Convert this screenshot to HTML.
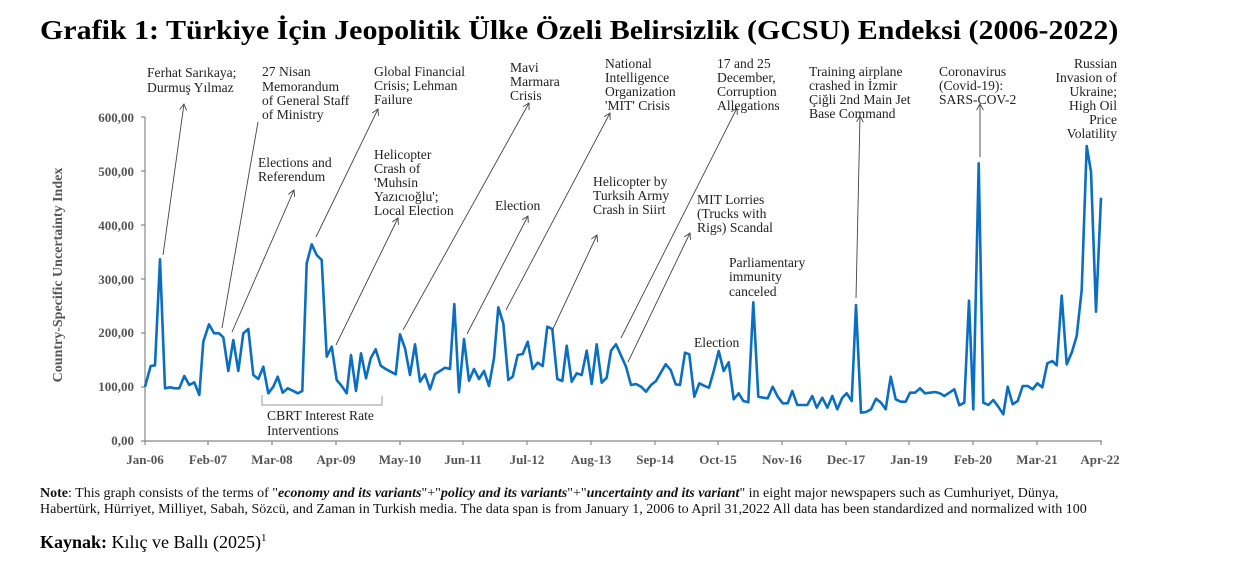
<!DOCTYPE html>
<html><head><meta charset="utf-8"><style>
html,body{margin:0;padding:0;background:#fff;}
body{width:1249px;height:571px;position:relative;overflow:hidden;font-family:"Liberation Serif",serif;}
.t{position:absolute;white-space:nowrap;}
</style></head><body>
<div class="t" style="left:40px;top:15px;font-size:27px;font-weight:bold;transform:scaleX(1.11);transform-origin:0 0;">Grafik 1: Türkiye İçin Jeopolitik Ülke Özeli Belirsizlik (GCSU) Endeksi (2006-2022)</div>
<svg width="1249" height="571" style="position:absolute;left:0;top:0" font-family="Liberation Serif, serif">
<defs><marker id="a" markerWidth="8" markerHeight="8" refX="7" refY="4" orient="auto"><path d="M0,0 L7,4 L0,8" fill="none" stroke="#444" stroke-width="1"/></marker></defs>
<g font-size="13" font-weight="bold" fill="#555" text-anchor="end">
<text x="134" y="122">600,00</text><text x="134" y="176">500,00</text><text x="134" y="230">400,00</text><text x="134" y="284">300,00</text><text x="134" y="337">200,00</text><text x="134" y="391">100,00</text><text x="134" y="445">0,00</text>
</g>
<text transform="translate(62,275) rotate(-90)" text-anchor="middle" font-size="14" font-weight="bold" fill="#555">Country-Specific Uncertainty Index</text>
<g stroke="#888" stroke-width="1.2">
<line x1="145" y1="117" x2="145" y2="441"/><line x1="145" y1="441" x2="1102" y2="441"/>
<line x1="141" y1="117" x2="145" y2="117"/><line x1="141" y1="171" x2="145" y2="171"/><line x1="141" y1="225" x2="145" y2="225"/><line x1="141" y1="279" x2="145" y2="279"/><line x1="141" y1="333" x2="145" y2="333"/><line x1="141" y1="387" x2="145" y2="387"/><line x1="141" y1="441" x2="145" y2="441"/>
<line x1="145" y1="441" x2="145" y2="445"/><line x1="208" y1="441" x2="208" y2="445"/><line x1="272" y1="441" x2="272" y2="445"/><line x1="336" y1="441" x2="336" y2="445"/><line x1="400" y1="441" x2="400" y2="445"/><line x1="463" y1="441" x2="463" y2="445"/><line x1="527" y1="441" x2="527" y2="445"/><line x1="591" y1="441" x2="591" y2="445"/><line x1="655" y1="441" x2="655" y2="445"/><line x1="718" y1="441" x2="718" y2="445"/><line x1="782" y1="441" x2="782" y2="445"/><line x1="846" y1="441" x2="846" y2="445"/><line x1="909" y1="441" x2="909" y2="445"/><line x1="973" y1="441" x2="973" y2="445"/><line x1="1037" y1="441" x2="1037" y2="445"/><line x1="1101" y1="441" x2="1101" y2="445"/>
</g>
<g font-size="13" font-weight="bold" fill="#555" text-anchor="middle">
<text x="145" y="464">Jan-06</text><text x="208" y="464">Feb-07</text><text x="272" y="464">Mar-08</text><text x="336" y="464">Apr-09</text><text x="400" y="464">May-10</text><text x="463" y="464">Jun-11</text><text x="527" y="464">Jul-12</text><text x="591" y="464">Aug-13</text><text x="655" y="464">Sep-14</text><text x="718" y="464">Oct-15</text><text x="782" y="464">Nov-16</text><text x="846" y="464">Dec-17</text><text x="909" y="464">Jan-19</text><text x="973" y="464">Feb-20</text><text x="1037" y="464">Mar-21</text><text x="1100" y="464">Apr-22</text>
</g>
<polyline fill="none" stroke="#0A6FC2" stroke-width="2.6" stroke-linejoin="round" points="145,386.7 150.7,366 155,365.3 160,259.3 165,388.3 170,387.3 175,388.3 179.3,388.3 184.3,376 189.3,385 194.3,382.3 199.3,395 203.3,341.7 209,324.3 214,333.3 219,333.3 223.3,337.3 228.3,371 233.3,340 238.3,371 243.3,333.3 248.3,329 253.3,375 258.3,379 263.3,366.7 268.3,393.3 273.3,386.7 277.7,376.7 282.7,392.7 287.7,388.3 292.7,390.7 297.7,393.3 302.3,391 306.7,263.3 311.7,244.3 316.7,255 321.7,260 326.7,356.7 331.7,346.7 336.7,380 341.7,386 346.7,393.3 351,355 356,391 361,353.3 366,378.3 370.7,358.3 375.7,349.3 380.7,365.7 385.7,369 390.7,371.7 395.7,374.3 400,334.3 405,348.3 410,375 415,344.3 420,381.7 425,374.3 430,389.3 435,374 440,371 445,367.7 450,369 454.3,304 459,392.3 464,339 469,380.7 474,369 479,379 484,371 489,386 494,358.3 498.3,307.3 503.3,323.3 508.3,380 512.7,376.7 517.7,355 522.7,354 527.7,341.7 532.7,369 537.7,362.7 542.7,366 547.3,326.7 552.3,329 557.3,379 562.3,381 566.7,345.7 571.7,381.7 576.7,373.3 581.7,375 586.7,350.7 591.7,384 596.7,344.3 601.7,382.7 606.7,377.7 611,350.7 616,344.3 626,366.7 631,385 636,384 641,386.7 646,391.7 651,385 656,381 661,372.3 665.7,364.3 670.7,370 675.7,384.3 680,385 685,352.7 689.3,354.3 694.3,396.7 699.3,383.3 704,385.7 709,387.7 714,370 718.7,351 723.7,371 728.7,362.3 733.7,399.3 738.7,393.3 743.3,401 748.3,402.3 753.3,302.3 758.3,396.7 763.3,397.7 767.7,398.3 772.7,386.7 777.7,396.7 782.7,403.3 787.7,403.3 792.3,391 797.3,405 802.3,405 807.3,405 812.3,396 816.7,407.7 822.3,397.7 827.3,407.7 832.3,396 837.3,409.3 842.3,397.7 846.7,393.3 851.7,401 856,305 861,412.7 866,412 871,409.3 876,398.7 881,402.7 885.7,409.3 890.7,376.7 895.7,399.3 900.7,401.7 905.7,401.7 910,392.7 915,392.7 920,388.3 925,393.3 930,392.7 935,392 940,393.3 944.3,396 949.3,392.7 954.3,389.3 959.3,405.3 964.3,402.7 969,300.7 973.3,409.3 978.7,163.3 983.3,402.7 988.3,405 993.3,400 998.3,406.7 1003.3,414.3 1007.7,386.7 1012.7,404.3 1017.7,401 1022.7,386 1027.7,386 1032.7,389.3 1037.3,383.3 1042.3,387.3 1047.3,363.3 1052.3,361 1056.7,365.3 1061.7,295.7 1066.7,364.3 1071.7,352.7 1076.7,336 1081.7,290 1086.7,146 1091,171.7 1096,311.7 1101,197.7"/>
<g stroke="#444" stroke-width="0.9" fill="none">
<line x1="163" y1="255" x2="184" y2="104" marker-end="url(#a)"/>
<line x1="222" y1="328" x2="258" y2="122"/>
<line x1="232" y1="332" x2="294" y2="190" marker-end="url(#a)"/>
<line x1="316" y1="237" x2="378" y2="109" marker-end="url(#a)"/>
<line x1="336" y1="345" x2="398" y2="218" marker-end="url(#a)"/>
<line x1="403" y1="330" x2="529" y2="103" marker-end="url(#a)"/>
<line x1="467" y1="334" x2="528" y2="216" marker-end="url(#a)"/>
<line x1="506" y1="310" x2="610" y2="113" marker-end="url(#a)"/>
<line x1="552" y1="331" x2="597" y2="235" marker-end="url(#a)"/>
<line x1="621" y1="338" x2="737" y2="108" marker-end="url(#a)"/>
<line x1="628" y1="362" x2="690" y2="233" marker-end="url(#a)"/>
<line x1="856" y1="298" x2="860" y2="116" marker-end="url(#a)"/>
<line x1="980" y1="157" x2="980" y2="104" marker-end="url(#a)"/>
</g>
<path d="M262,395 V405 H382 V396" fill="none" stroke="#999" stroke-width="1"/>
<g font-size="13.6" fill="#222">
<text x="147" y="77">Ferhat Sarıkaya;</text><text x="147" y="92">Durmuş Yılmaz</text>
<text x="262" y="76">27 Nisan</text><text x="262" y="91">Memorandum</text><text x="262" y="105">of General Staff</text><text x="262" y="119">of Ministry</text>
<text x="258" y="167">Elections and</text><text x="258" y="181">Referendum</text>
<text x="374" y="76">Global Financial</text><text x="374" y="90">Crisis; Lehman</text><text x="374" y="104">Failure</text>
<text x="374" y="159">Helicopter</text><text x="374" y="173">Crash of</text><text x="374" y="187">'Muhsin</text><text x="374" y="201">Yazıcıoğlu';</text><text x="374" y="215">Local Election</text>
<text x="510" y="72">Mavi</text><text x="510" y="86">Marmara</text><text x="510" y="100">Crisis</text>
<text x="495" y="210">Election</text>
<text x="605" y="68">National</text><text x="605" y="82">Intelligence</text><text x="605" y="96">Organization</text><text x="605" y="110">'MIT'  Crisis</text>
<text x="593" y="186">Helicopter by</text><text x="593" y="200">Turksih Army</text><text x="593" y="214">Crash in Siirt</text>
<text x="717" y="68">17 and 25</text><text x="717" y="82">December,</text><text x="717" y="96">Corruption</text><text x="717" y="110">Allegations</text>
<text x="697" y="204">MIT Lorries</text><text x="697" y="218">(Trucks with</text><text x="697" y="232">Rigs) Scandal</text>
<text x="729" y="267">Parliamentary</text><text x="729" y="281">immunity</text><text x="729" y="296">canceled</text>
<text x="694" y="347">Election</text>
<text x="809" y="76">Training airplane</text><text x="809" y="90">crashed in İzmir</text><text x="809" y="104">Çiğli 2nd Main Jet</text><text x="809" y="118">Base Command</text>
<text x="939" y="76">Coronavirus</text><text x="939" y="90">(Covid-19):</text><text x="939" y="104">SARS-COV-2</text>
<g text-anchor="end"><text x="1117" y="68">Russian</text><text x="1117" y="82">Invasion of</text><text x="1117" y="96">Ukraine;</text><text x="1117" y="110">High Oil</text><text x="1117" y="124">Price</text><text x="1117" y="138">Volatility</text></g>
<text x="267" y="420">CBRT Interest Rate</text><text x="267" y="435">Interventions</text>
</g>
</svg>
<div style="position:absolute;left:40px;top:486px;width:1085px;overflow:hidden;font-size:14px;line-height:16px;color:#111;white-space:nowrap;">
<b>Note</b>: This graph consists of the terms of "<b><i>economy and its variants</i></b>"+"<b><i>policy and its variants</i></b>"+"<b><i>uncertainty and its variant</i></b>" in eight major newspapers such as Cumhuriyet, Dünya,<br>
Habertürk, Hürriyet, Milliyet, Sabah, Sözcü, and Zaman in Turkish media. The data span is from January 1, 2006 to April 31,2022 All data has been standardized and normalized with 100</div>
<div class="t" style="left:40px;top:532px;font-size:18px;"><b>Kaynak:</b> Kılıç ve Ballı (2025)<sup style="font-size:11px">1</sup></div>
</body></html>
